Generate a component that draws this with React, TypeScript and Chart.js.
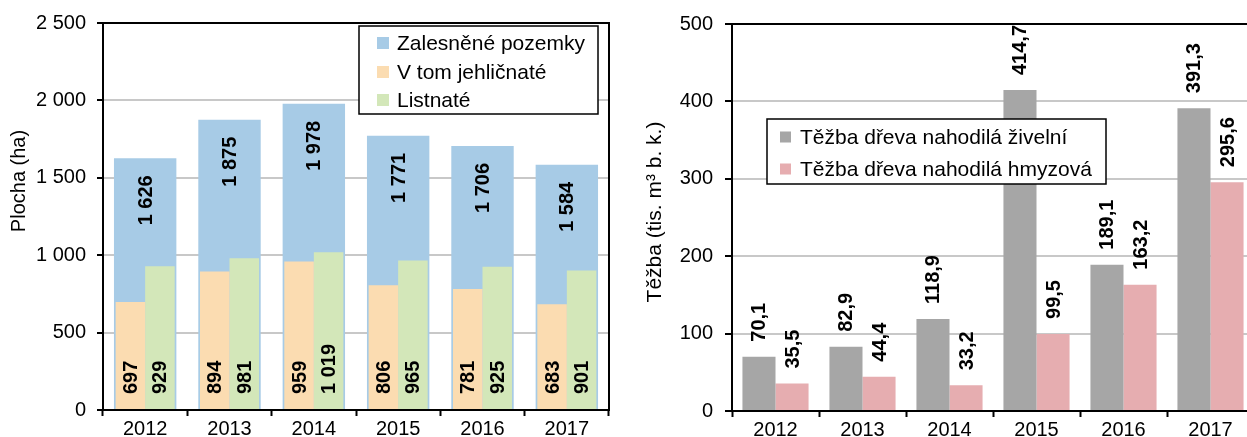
import React, { useEffect, useRef } from 'react';
import { Chart, registerables } from 'chart.js';

Chart.register(...registerables);

const years = ['2012', '2013', '2014', '2015', '2016', '2017'];
const forestedArea = [1626, 1875, 1978, 1771, 1706, 1584];
const coniferArea = [697, 894, 959, 806, 781, 683];
const broadleafArea = [929, 981, 1019, 965, 925, 901];
const areaTicks = [0, 500, 1000, 1500, 2000, 2500];

const fellingNatural = [70.1, 82.9, 118.9, 414.7, 189.1, 391.3];
const fellingInsect = [35.5, 44.4, 33.2, 99.5, 163.2, 295.6];
const fellingTicks = [0, 100, 200, 300, 400, 500];

const leftLegendLabels = ['Zalesněné pozemky', 'V tom jehličnaté', 'Listnaté'];
const rightLegendLabels = ['Těžba dřeva nahodilá živelní', 'Těžba dřeva nahodilá hmyzová'];
const leftAxisTitle = 'Plocha (ha)';
const rightAxisTitle = 'Těžba (tis. m³ b. k.)';

const FONT = "'Liberation Sans', Arial, Helvetica, sans-serif";
const BLUE = '#a7cbe6';
const ORANGE = '#fbdcb1';
const GREEN = '#d3e7b9';
const GRAY = '#a6a6a6';
const PINK = '#e6adb0';

function fmtInt(v: number): string {
  return Math.round(v).toString().replace(/\B(?=(\d{3})+(?!\d))/g, ' ');
}
function fmtDec(v: number): string {
  return v.toFixed(1).replace('.', ',');
}

type LabelCfg = { ds: number; mode: 'end' | 'base' | 'outside'; offset: number; fmt: (v: number) => string };

function valueLabels(cfg: LabelCfg[]) {
  return {
    id: 'valueLabels',
    afterDatasetsDraw(chart: any) {
      const ctx = chart.ctx;
      ctx.save();
      ctx.font = `bold 20px ${FONT}`;
      ctx.fillStyle = '#000';
      ctx.textBaseline = 'middle';
      for (const c of cfg) {
        const meta = chart.getDatasetMeta(c.ds);
        const data = chart.data.datasets[c.ds].data as number[];
        meta.data.forEach((bar: any, i: number) => {
          const p = bar.getProps(['x', 'y', 'base'], true);
          let ay = 0;
          let align: CanvasTextAlign = 'left';
          if (c.mode === 'end') { ay = p.y + c.offset; align = 'right'; }
          else if (c.mode === 'base') { ay = p.base - c.offset; align = 'left'; }
          else { ay = p.y - c.offset; align = 'left'; }
          ctx.save();
          ctx.translate(p.x, ay);
          ctx.rotate(-Math.PI / 2);
          ctx.textAlign = align;
          ctx.fillText(c.fmt(data[i]), 0, 1);
          ctx.restore();
        });
      }
      ctx.restore();
    },
  };
}

type LegendCfg = { x: number; y: number; w: number; h: number; rows: number[]; sym: number; symX: number; textX: number; labels: string[]; colors: string[] };

function boxLegend(cfg: LegendCfg) {
  return {
    id: 'boxLegend',
    afterDraw(chart: any) {
      const ctx = chart.ctx;
      ctx.save();
      ctx.fillStyle = '#fff';
      ctx.fillRect(cfg.x, cfg.y, cfg.w, cfg.h);
      ctx.strokeStyle = '#000';
      ctx.lineWidth = 1.5;
      ctx.strokeRect(cfg.x, cfg.y, cfg.w, cfg.h);
      ctx.font = `21px ${FONT}`;
      ctx.textBaseline = 'middle';
      ctx.textAlign = 'left';
      cfg.labels.forEach((lab, i) => {
        const cy = cfg.rows[i];
        ctx.fillStyle = cfg.colors[i];
        ctx.fillRect(cfg.symX, cy - cfg.sym / 2, cfg.sym, cfg.sym);
        ctx.fillStyle = '#000';
        ctx.fillText(lab, cfg.textX, cy + 1);
      });
      ctx.restore();
    },
  };
}

function frameAndTitle(title: string, tx: number, ty: number, size: number) {
  return {
    id: 'frameAndTitle',
    afterDraw(chart: any) {
      const { ctx, chartArea } = chart;
      ctx.save();
      ctx.strokeStyle = '#000';
      ctx.lineWidth = 2;
      ctx.beginPath();
      ctx.moveTo(chartArea.left, chartArea.top);
      ctx.lineTo(chartArea.right, chartArea.top);
      ctx.lineTo(chartArea.right, chartArea.bottom);
      ctx.stroke();
      ctx.translate(tx, ty);
      ctx.rotate(-Math.PI / 2);
      ctx.font = `${size}px ${FONT}`;
      ctx.fillStyle = '#000';
      ctx.textAlign = 'center';
      ctx.textBaseline = 'middle';
      ctx.fillText(title, 0, 0);
      ctx.restore();
    },
  };
}

function scales(ticks: number[], fmt: (v: number) => string, yWidth: number, xHeight: number, yPad: number, yTickLen: number) {
  return {
    x: {
      grid: { drawOnChartArea: false, offset: true, tickLength: 6, tickColor: '#000', tickWidth: 2 },
      border: { color: '#000', width: 2 },
      ticks: { color: '#000', font: { family: FONT, size: 20 }, padding: 1, maxRotation: 0 },
      afterFit: (s: any) => { s.height = xHeight; },
    },
    y: {
      min: ticks[0],
      max: ticks[ticks.length - 1],
      afterBuildTicks: (s: any) => { s.ticks = ticks.map((v) => ({ value: v })); },
      grid: {
        color: (c: any) => (c.tick && (c.tick.value === ticks[0] || c.tick.value === ticks[ticks.length - 1]) ? '#000' : '#c8c8c8'),
        lineWidth: 2,
        tickColor: '#000',
        tickWidth: 2,
        tickLength: yTickLen,
      },
      border: { color: '#000', width: 2 },
      ticks: { color: '#000', font: { family: FONT, size: 20 }, padding: yPad, callback: (v: any) => fmt(Number(v)) },
      afterFit: (s: any) => { s.width = yWidth; },
    },
  };
}

export default function App() {
  const leftRef = useRef<HTMLCanvasElement>(null);
  const rightRef = useRef<HTMLCanvasElement>(null);

  useEffect(() => {
    const left = new Chart(leftRef.current as HTMLCanvasElement, {
      type: 'bar',
      data: {
        labels: years,
        datasets: [
          { label: leftLegendLabels[0], data: forestedArea, backgroundColor: BLUE, grouped: false, categoryPercentage: 0.74, barPercentage: 1, order: 2 } as any,
          { label: leftLegendLabels[1], data: coniferArea, backgroundColor: ORANGE, categoryPercentage: 0.7, barPercentage: 1, order: 0 },
          { label: leftLegendLabels[2], data: broadleafArea, backgroundColor: GREEN, categoryPercentage: 0.7, barPercentage: 1, order: 0 },
        ],
      },
      options: {
        responsive: false,
        animation: false,
        devicePixelRatio: 1,
        layout: { padding: { top: 20, right: 21, left: 0, bottom: 0 } },
        plugins: { legend: { display: false }, tooltip: { enabled: false } },
        scales: scales(areaTicks, fmtInt, 103, 27, 11, 6) as any,
      },
      plugins: [
        frameAndTitle(leftAxisTitle, 19, 181, 20),
        valueLabels([
          { ds: 0, mode: 'end', offset: 17, fmt: fmtInt },
          { ds: 1, mode: 'base', offset: 15, fmt: fmtInt },
          { ds: 2, mode: 'base', offset: 15, fmt: fmtInt },
        ]),
        boxLegend({ x: 359, y: 26, w: 239, h: 88, rows: [43, 72, 100], sym: 12, symX: 377, textX: 397, labels: leftLegendLabels, colors: [BLUE, ORANGE, GREEN] }),
      ],
    });

    const right = new Chart(rightRef.current as HTMLCanvasElement, {
      type: 'bar',
      data: {
        labels: years,
        datasets: [
          { label: rightLegendLabels[0], data: fellingNatural, backgroundColor: GRAY, categoryPercentage: 0.76, barPercentage: 1 },
          { label: rightLegendLabels[1], data: fellingInsect, backgroundColor: PINK, categoryPercentage: 0.76, barPercentage: 1 },
        ],
      },
      options: {
        responsive: false,
        animation: false,
        devicePixelRatio: 1,
        layout: { padding: { top: 16, right: 16, left: 0, bottom: 0 } },
        plugins: { legend: { display: false }, tooltip: { enabled: false } },
        scales: scales(fellingTicks, (v) => String(v), 102, 26, 12, 7) as any,
      },
      plugins: [
        frameAndTitle(rightAxisTitle, 25, 212, 21),
        valueLabels([
          { ds: 0, mode: 'outside', offset: 15, fmt: fmtDec },
          { ds: 1, mode: 'outside', offset: 15, fmt: fmtDec },
        ]),
        boxLegend({ x: 137, y: 119, w: 339, h: 65, rows: [137, 169], sym: 11, symX: 150, textX: 170, labels: rightLegendLabels, colors: [GRAY, PINK] }),
      ],
    });

    return () => {
      left.destroy();
      right.destroy();
    };
  }, []);

  return (
    <div style={{ position: 'fixed', left: 0, top: 0, width: 1247, height: 437, overflow: 'hidden', background: '#fff' }}>
      <canvas ref={leftRef} width={630} height={437} style={{ position: 'absolute', left: 0, top: 0, width: 630, height: 437 }} />
      <canvas ref={rightRef} width={640} height={437} style={{ position: 'absolute', left: 630, top: 0, width: 640, height: 437 }} />
    </div>
  );
}
